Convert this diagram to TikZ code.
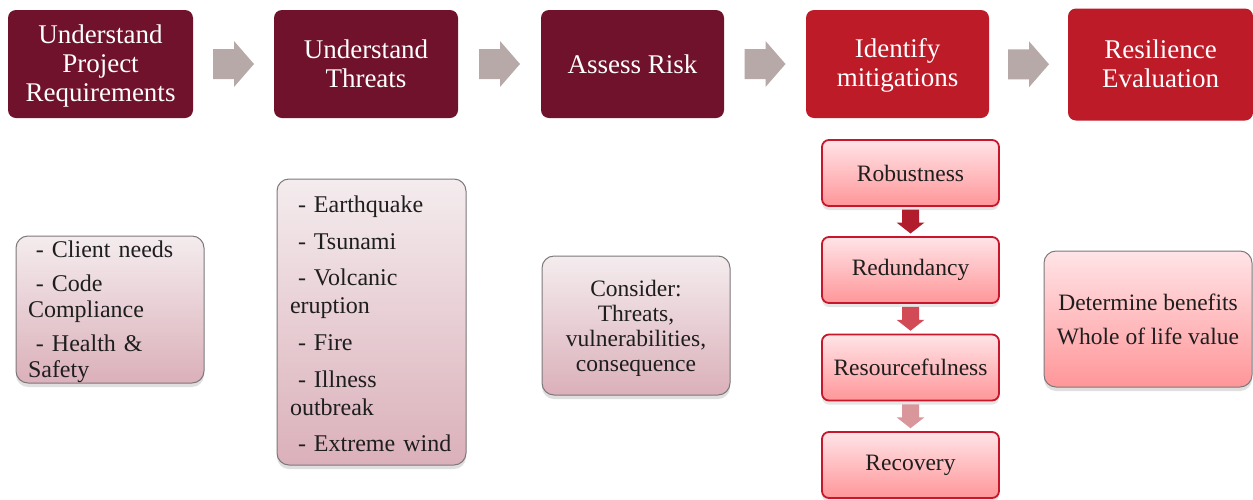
\documentclass[tikz,border=0pt]{standalone}
\usepackage{fontspec}
\setmainfont{Liberation Serif}
\usetikzlibrary{shadows,calc}
\definecolor{cMaroon}{RGB}{112,18,43}
\definecolor{cRed}{RGB}{190,27,40}
\definecolor{cArr}{RGB}{184,169,169}
\definecolor{cGrayTop}{RGB}{244,236,238}
\definecolor{cGrayBot}{RGB}{219,176,186}
\definecolor{cGrayLine}{RGB}{125,120,122}
\definecolor{cPinkTop}{RGB}{255,228,231}
\definecolor{cPinkBot}{RGB}{255,150,153}
\definecolor{cMitLine}{RGB}{200,22,42}
\definecolor{cDownA}{RGB}{178,29,46}
\definecolor{cDownB}{RGB}{210,74,85}
\definecolor{cDownC}{RGB}{217,151,156}
\definecolor{cText}{RGB}{30,30,30}
\begin{document}
\begin{tikzpicture}[x=1pt,y=-1pt,
  topbox/.style={rounded corners=8pt, inner sep=0pt, align=center, text=white,
    font=\fontsize{27}{29}\selectfont, minimum height=108pt},
  lowbox/.style={draw=cGrayLine, line width=1pt, rounded corners=12pt,
    top color=cGrayTop, bottom color=cGrayBot, inner sep=0pt, text=cText,
    drop shadow={shadow xshift=0pt, shadow yshift=-4pt, opacity=.25}},
  lowtext/.style={inner sep=0pt, text=cText},
  mitbox/.style={draw=cMitLine, line width=1.8pt, rounded corners=7pt,
    top color=cPinkTop, bottom color=cPinkBot, inner sep=0pt, text=cText,
    minimum width=177pt, minimum height=66pt, font=\fontsize{23.5}{26}\selectfont,
    drop shadow={shadow xshift=0pt, shadow yshift=-4pt, opacity=.2}},
  rarr/.pic={\path[pic actions] (-20.5,-15) -- (0.5,-15) -- (0.5,-23) -- (20.5,0)
    -- (0.5,23) -- (0.5,15) -- (-20.5,15) -- cycle;},
  darr/.pic={\path[pic actions] (-8.5,-12) -- (8.5,-12) -- (8.5,1) -- (14,1)
    -- (0,12) -- (-14,1) -- (-8.5,1) -- cycle;}
]
\fill[white] (0,0) rectangle (1253,499);
\useasboundingbox (0,0) rectangle (1253,499);

% top row
\node[topbox, fill=cMaroon, minimum width=185pt] (b1) at (100.5,64) {};
\node[topbox] (b1t) at ($(b1.center)+(0,2.5)$) {Understand\\Project\\Requirements};
\node[topbox, fill=cMaroon, minimum width=184pt] (b2) at (366,64) {Understand\\Threats};
\node[topbox, fill=cMaroon, minimum width=183pt] (b3) at (632.5,64) {Assess Risk};
\node[topbox, fill=cRed, minimum width=183pt] (b4) at (897.5,64) {};
\node[topbox] (b4t) at ($(b4.center)+(0,1.5)$) {Identify\\mitigations};
\node[topbox, fill=cRed, minimum width=185pt, minimum height=112pt] (b5) at (1160.5,64.5) {};
\node[topbox] (b5t) at ($(b5.center)+(0,-1)$) {Resilience\\Evaluation};

\pic[fill=cArr] at ($(b1.east)!0.5!(b2.west)$) {rarr};
\pic[fill=cArr] at ($(b2.east)!0.5!(b3.west)$) {rarr};
\pic[fill=cArr] at ($(b3.east)!0.5!(b4.west)$) {rarr};
\pic[fill=cArr] at ($(b4.east)!0.5!(b5.west)$) {rarr};

% lower boxes
\node[lowbox, minimum width=188pt, minimum height=147pt] (req) at (110,309.5) {};
\node[lowtext, align=left, text width=164pt,
  font=\fontsize{24}{26}\selectfont] (reqt) at ($(req.center)+(0,2.5)$)
  {\ - Client needs\\[8pt]\ - Code\\Compliance\\[8pt]\ - Health \&\\Safety};

\node[lowbox, minimum width=189pt, minimum height=286pt] (thr) at (371.5,322) {};
\node[lowtext, align=left, text width=163pt,
  font=\fontsize{24}{28}\selectfont] (thrt) at ($(thr.center)+(0,2)$)
  {\ - Earthquake\\[8.5pt]\ - Tsunami\\[8.5pt]\ - Volcanic\\eruption\\[9pt]\ - Fire\\[8.5pt]\ - Illness\\outbreak\\[8.5pt]\ - Extreme wind};

\node[lowbox, minimum width=188pt, minimum height=139pt] (con) at (636,325.5) {};
\node[lowtext, align=center, font=\fontsize{23.5}{25}\selectfont] (cont)
  at ($(con.center)+(0,2.5)$) {Consider:\\Threats,\\vulnerabilities,\\consequence};

% mitigations
\node[mitbox] (rob) at (910.5,173) {Robustness};
\node[mitbox] (red) at (910.5,270) {Redundancy};
\node[mitbox] (res) at (910.5,367.5) {Resourcefulness};
\node[mitbox] (rec) at (910.5,465) {Recovery};

\pic[fill=cDownA] at ($(rob.south)!0.5!(red.north)$) {darr};
\pic[fill=cDownB] at ($(red.south)!0.5!(res.north)$) {darr};
\pic[fill=cDownC] at ($(res.south)!0.5!(rec.north)$) {darr};

\node[draw=cGrayLine, line width=1pt, rounded corners=12pt, top color=cPinkTop,
  bottom color=cPinkBot, inner sep=0pt, text=cText, align=center,
  minimum width=208pt, minimum height=136pt, font=\fontsize{23.5}{26}\selectfont,
  drop shadow={shadow xshift=0pt, shadow yshift=-4pt, opacity=.25}] (det) at (1148,319)
  {Determine benefits\\[8pt]Whole of life value};
\end{tikzpicture}
\end{document}
